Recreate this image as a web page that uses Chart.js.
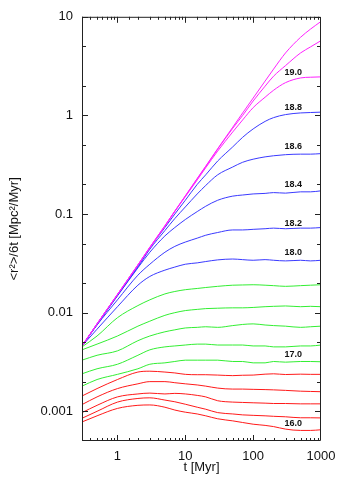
<!DOCTYPE html>
<html><head><meta charset="utf-8">
<script src="https://cdn.jsdelivr.net/npm/chart.js@4/dist/chart.umd.min.js"></script>
<style>html,body{margin:0;padding:0;background:#fff;}</style>
</head><body>
<canvas id="c" width="346" height="485"></canvas>
<script>
// time grid [Myr]
const times = [0.3, 0.5, 1, 2, 3, 5, 7, 10, 15, 20, 30, 50, 70, 100, 150, 200, 300, 500, 700, 1000];

// <r^2>/6t values for each curve
const s194 = [0.0046,0.0077,0.0153,0.0305,0.046,0.076,0.107,0.153,0.23,0.306,0.46,0.76,1.06,1.5,2.23,2.95,4.3,6.2,7.5,8.97];
const s192 = [0.0046,0.0077,0.0153,0.0305,0.046,0.076,0.107,0.152,0.228,0.303,0.455,0.74,1.0,1.4,1.98,2.5,3.2,4.3,4.95,5.73];
const s190 = [0.0046,0.0077,0.0153,0.0304,0.0455,0.075,0.106,0.15,0.222,0.295,0.435,0.68,0.9,1.2,1.53,1.8,2.15,2.4,2.44,2.46];
const s188 = [0.0046,0.0077,0.0152,0.030,0.0455,0.073,0.1,0.138,0.2,0.25,0.345,0.48,0.6,0.73,0.87,0.95,1.02,1.06,1.07,1.08];
const s186 = [0.0046,0.0076,0.015,0.029,0.044,0.068,0.09,0.118,0.16,0.195,0.25,0.3,0.335,0.36,0.38,0.39,0.40,0.405,0.405,0.41];
const s184 = [0.0046,0.0076,0.0148,0.0285,0.041,0.06,0.073,0.088,0.106,0.12,0.138,0.152,0.156,0.16,0.162,0.165,0.163,0.168,0.168,0.172];
const s182 = [0.0046,0.0075,0.0135,0.024,0.031,0.041,0.047,0.052,0.057,0.061,0.065,0.069,0.069,0.070,0.071,0.072,0.071,0.072,0.072,0.073];
const s180 = [0.0046,0.0068,0.0115,0.019,0.0233,0.027,0.029,0.031,0.032,0.033,0.0343,0.035,0.0345,0.034,0.0345,0.034,0.0335,0.034,0.0335,0.034];
const s178 = [0.0045,0.0058,0.0089,0.0118,0.0135,0.0155,0.0164,0.0171,0.0176,0.018,0.0185,0.019,0.0191,0.0192,0.019,0.0188,0.0185,0.0188,0.019,0.0192];
const s176 = [0.0042,0.0048,0.0058,0.0073,0.0082,0.0094,0.01,0.0105,0.0108,0.011,0.0111,0.0112,0.0112,0.0113,0.0115,0.0116,0.0117,0.0115,0.0116,0.0115];
const s174 = [0.0033,0.0037,0.0041,0.0052,0.0058,0.0064,0.0067,0.007,0.0071,0.0072,0.0071,0.0074,0.0076,0.0077,0.0075,0.0074,0.0073,0.0071,0.0072,0.0073];
const s172 = [0.0024,0.0027,0.003,0.0037,0.0042,0.0045,0.0046,0.0047,0.0048,0.0048,0.0047,0.0047,0.0047,0.0046,0.0046,0.0045,0.0045,0.0046,0.0046,0.0047];
const s170 = [0.0018,0.0021,0.00237,0.0027,0.003,0.0031,0.0032,0.0033,0.0033,0.0033,0.0033,0.0032,0.0032,0.0031,0.0031,0.0032,0.00315,0.0032,0.0032,0.00318];
const s168 = [0.00143,0.0017,0.0021,0.0025,0.00255,0.0025,0.00245,0.00237,0.00235,0.00235,0.00233,0.0023,0.00232,0.00233,0.00238,0.0024,0.00236,0.00238,0.00237,0.00237];
const s166 = [0.00117,0.0014,0.0017,0.0019,0.002,0.002,0.00195,0.0019,0.00185,0.0018,0.00172,0.00168,0.00168,0.00167,0.00166,0.00165,0.00163,0.0016,0.00159,0.00158];
const s164 = [0.00097,0.00115,0.0014,0.0015,0.00153,0.0015,0.00152,0.0015,0.00145,0.0014,0.00128,0.00124,0.00123,0.00122,0.00121,0.0012,0.0012,0.00119,0.00119,0.00119];
const s162 = [0.00085,0.001,0.00124,0.00135,0.00137,0.0013,0.00125,0.00118,0.0011,0.00105,0.00097,0.00094,0.00092,0.00091,0.0009,0.00089,0.00088,0.00086,0.00086,0.000857];
const s160 = [0.00078,0.0009,0.00107,0.00115,0.00116,0.0011,0.00103,0.00098,0.00094,0.0009,0.00084,0.0008,0.00077,0.00074,0.00072,0.0007,0.00066,0.00064,0.00064,0.00065];

const seriesList = [s194,s192,s190,s188,s186,s184,s182,s180,s178,s176,s174,s172,s170,s168,s166,s164,s162,s160];
const seriesColors = ['#ff22ff','#ff22ff','#ff22ff','#3a3aff','#3a3aff','#3a3aff','#3a3aff','#3a3aff',
  '#33ee33','#33ee33','#33ee33','#33ee33','#33ee33','#ff1a1a','#ff1a1a','#ff1a1a','#ff1a1a','#ff1a1a'];

// curve labels
const labelTexts = ['19.0','18.8','18.6','18.4','18.2','18.0','17.0','16.0'];
const labelValues = [2.72, 1.205, 0.486, 0.201, 0.0793, 0.0404, 0.00377, 0.000757];
const labelTime = 390;

const xTickLabels = ['1','10','100','1000'];
const yTickLabels = ['10','1','0.1','0.01','0.001'];

const FONT = '"Liberation Sans", Arial, Helvetica, sans-serif';
const AXIS_COLOR = '#222222';

function mant(v){ const e = Math.floor(Math.log10(v) + 1e-9); return Math.round(v / Math.pow(10, e) * 10) / 10; }
function isPow10(v){ return mant(v) === 1; }

const datasets = seriesList.map((s, i) => ({
  data: times.map((t, j) => ({x: t, y: s[j]})),
  borderColor: seriesColors[i],
  borderWidth: 1,
  pointRadius: 0,
  fill: false,
  cubicInterpolationMode: 'monotone'
}));

const framePlugin = {
  id: 'frame',
  afterDatasetsDraw(chart) {
    const ctx = chart.ctx;
    const x = chart.scales.x, y = chart.scales.y;
    const L = x.left, R = x.right, T = y.top, B = y.bottom;
    ctx.save();
    ctx.lineWidth = 1;
    ctx.strokeStyle = AXIS_COLOR;
    ctx.beginPath();
    ctx.moveTo(L + 0.5, T + 0.5); ctx.lineTo(R - 0.5, T + 0.5);
    ctx.lineTo(R - 0.5, B - 0.5); ctx.lineTo(L + 0.5, B - 0.5);
    ctx.closePath();
    x.ticks.forEach(t => {
      const p = Math.round(x.getPixelForValue(t.value)) + 0.5;
      if (p < L || p > R) return;
      const len = isPow10(t.value) ? 6 : 3;
      ctx.moveTo(p, B); ctx.lineTo(p, B - len);
      ctx.moveTo(p, T); ctx.lineTo(p, T + len);
    });
    y.ticks.forEach(t => {
      const p = Math.round(y.getPixelForValue(t.value)) + 0.5;
      if (p < T || p > B) return;
      const len = isPow10(t.value) ? 6 : 4;
      ctx.moveTo(L, p); ctx.lineTo(L + len, p);
      ctx.moveTo(R, p); ctx.lineTo(R - len, p);
    });
    ctx.stroke();
    // curve labels
    ctx.fillStyle = '#111111';
    ctx.font = 'bold 9px ' + FONT;
    ctx.textAlign = 'center';
    ctx.textBaseline = 'middle';
    const lx = x.getPixelForValue(labelTime);
    labelTexts.forEach((txt, i) => {
      ctx.fillText(txt, lx, y.getPixelForValue(labelValues[i]));
    });
    ctx.restore();
  }
};

new Chart(document.getElementById('c'), {
  type: 'line',
  data: { datasets },
  options: {
    responsive: false,
    animation: false,
    devicePixelRatio: 1,
    layout: { padding: { left: 0, right: 25, top: 16, bottom: 0 } },
    plugins: { legend: { display: false }, tooltip: { enabled: false } },
    scales: {
      x: {
        type: 'logarithmic',
        min: 0.3, max: 1000,
        grid: { display: false, drawTicks: false },
        border: { display: false },
        ticks: {
          autoSkip: false, maxRotation: 0, padding: 8,
          color: '#111', font: { family: FONT, size: 13 },
          callback: (v) => { const s = String(v); return xTickLabels.includes(s) ? s : ''; }
        },
        title: { display: true, text: 't [Myr]', color: '#111', font: { family: FONT, size: 13 }, padding: { top: 0, bottom: 10 } },
        afterFit: (s) => { s.height = 44; }
      },
      y: {
        type: 'logarithmic',
        min: 0.0005, max: 10,
        grid: { display: false, drawTicks: false },
        border: { display: false },
        afterBuildTicks: (s) => { s.ticks = s.ticks.filter(t => [1, 2, 5].includes(mant(t.value))); },
        ticks: {
          autoSkip: false, padding: 9,
          color: '#111', font: { family: FONT, size: 13 },
          callback: (v) => { const s = String(v); return yTickLabels.includes(s) ? s : ''; }
        },
        title: { display: true, text: '<r²>/6t [Mpc²/Myr]', color: '#111', font: { family: FONT, size: 13 }, padding: { top: 7, bottom: 0 } },
        afterFit: (s) => { s.width = 82; }
      }
    }
  },
  plugins: [framePlugin]
});
</script>
</body></html>
